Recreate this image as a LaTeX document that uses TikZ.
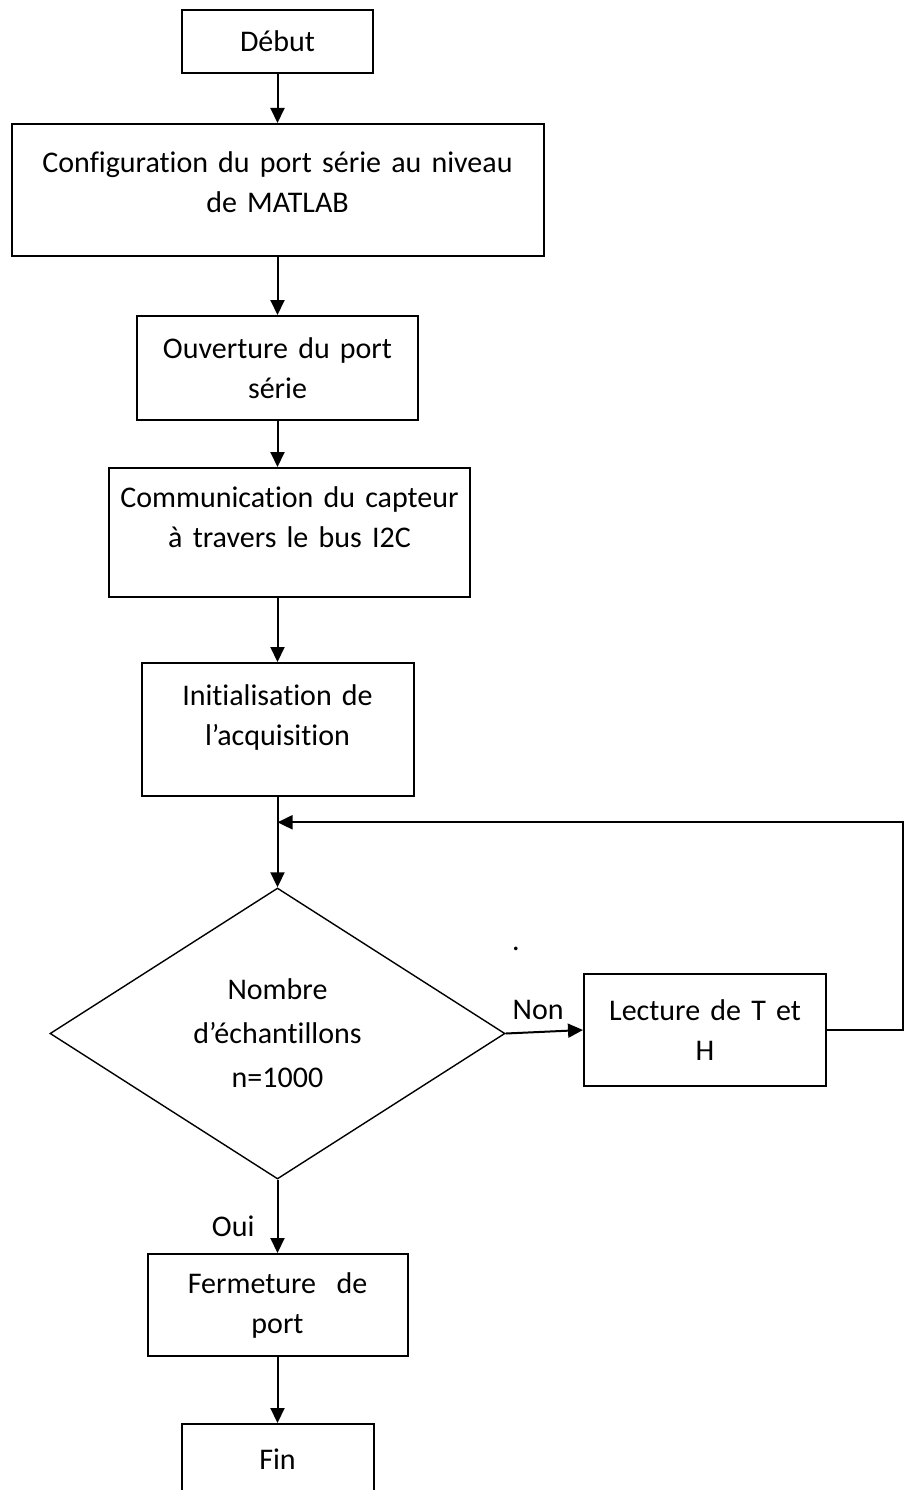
\documentclass[tikz,border=0pt]{standalone}
\usepackage{fontspec}
\setmainfont{Carlito}[Ligatures=NoCommon, WordSpace=1.5]
\usetikzlibrary{shapes.geometric,arrows.meta,positioning,calc}
\tikzstyle{block} = [draw, rectangle, line width=2pt, align=center,
    inner sep=0pt, font=\fontsize{30pt}{40pt}\selectfont]
\tikzstyle{decision} = [draw, diamond, line width=1.4pt, align=center,
    inner sep=0pt, font=\fontsize{30pt}{44pt}\selectfont]
\tikzstyle{tag} = [inner sep=2pt, font=\fontsize{30pt}{36pt}\selectfont]
\tikzstyle{connector} = [->, line width=2pt]

\begin{document}
\begin{tikzpicture}[x=1pt, y=1pt, >={Triangle[length=15pt,width=14pt]}]
    \useasboundingbox (0,0) rectangle (906,-1490);
    \node (debut) [block, minimum width=191pt, minimum height=63pt] at (277.5,-41.5) {Début};
    \node (config) [block, minimum width=532pt, minimum height=132pt, below=49pt of debut,
        text depth=16pt] {Configuration du port série au niveau\\de MATLAB};
    \node (ouverture) [block, minimum width=281pt, minimum height=104pt, below=58pt of config] {Ouverture du port\\série};
    \node (comm) [block, minimum width=361pt, minimum height=129pt, below=46pt of ouverture, xshift=12pt,
        text depth=30pt] {Communication du capteur\\à travers le bus I2C};
    \node (init) [block, minimum width=272pt, minimum height=133pt, below=64pt of comm, xshift=-12pt,
        text depth=28pt] {Initialisation de\\l’acquisition};
    \node (decision) [decision, minimum width=455pt, minimum height=291pt, below=90.3pt of init] {Nombre\\d’échantillons\\n=1000};
    \node (lecture) [block, minimum width=242pt, minimum height=112pt, right=77.3pt of decision, yshift=3.5pt] {Lecture de T et\\H};
    \node (fermeture) [block, minimum width=260pt, minimum height=102pt, below=73.3pt of decision] {Fermeture~ de\\port};
    \node (fin) [block, minimum width=192pt, minimum height=70pt, below=66pt of fermeture] {Fin};
    \node (dot) [tag, anchor=base] at (516,-950) {.};

    % retour de la boucle
    \coordinate (loopin) at ($(init.south)!0.28!(decision.north)$);

    \draw [connector] (debut) -- (config);
    \draw [connector] (config) -- (ouverture);
    \draw [connector] (ouverture) -- (comm.north -| ouverture.south);
    \draw [connector] (comm.south -| init.north) -- (init);
    \draw [connector] (init) -- (decision);
    \draw [connector] (decision.east) -- node [tag, above=9pt, pos=0.42] {Non} (lecture.west);
    \draw [connector] (lecture.east) -- ++(76,0) |- (loopin);
    \draw [connector] (decision.south) -- node [tag, left=20pt, pos=0.64] {Oui} (fermeture.north);
    \draw [connector] (fermeture) -- (fin);
\end{tikzpicture}
\end{document}
